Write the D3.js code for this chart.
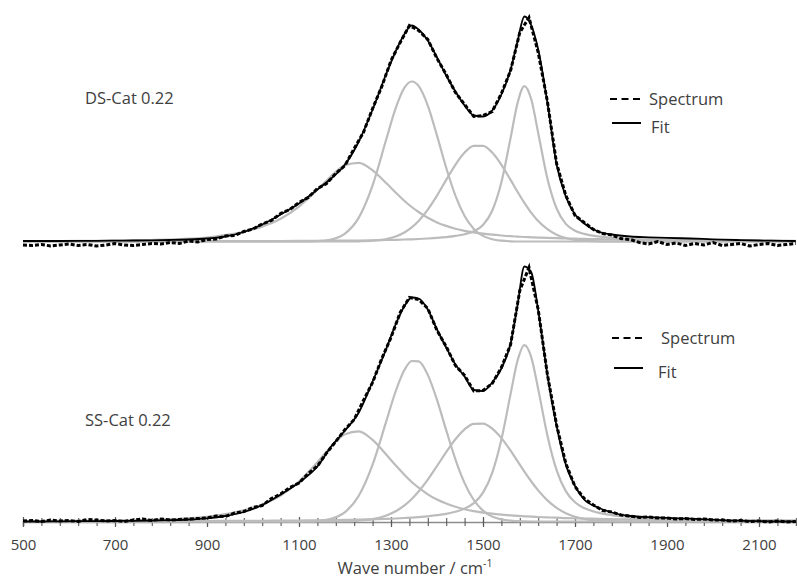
<!DOCTYPE html>
<html><head><meta charset="utf-8">
<script src="https://cdn.jsdelivr.net/npm/d3@7"></script>
<style>
body{margin:0;background:#fff;}
svg{display:block;}
text{font-family:"Open Sans",sans-serif;fill:#404040;}
</style>
</head><body>
<svg id="chart" width="797" height="580"></svg>
<script>
// ---------- DATA ----------
// shared wavenumber grid (cm-1) for fit and fitted bands
const wavenumbers = [500,540,580,620,660,700,740,780,820,860,900,940,980,1020,1060,1100,1140,1170,1200,1230,1260,1290,1310,1330,1345,1360,1380,1400,1420,1440,1460,1480,1500,1520,1540,1560,1575,1590,1605,1620,1640,1660,1680,1700,1720,1750,1780,1820,1860,1900,1950,2000,2050,2100,2150,2180];
// measured spectrum grid (cm-1)
const specWavenumbers = [500,520,540,560,580,600,620,640,660,680,700,720,740,760,780,800,820,840,860,880,900,920,940,960,980,1000,1020,1040,1060,1080,1100,1120,1140,1160,1180,1200,1220,1240,1260,1280,1300,1320,1340,1360,1380,1400,1420,1440,1460,1480,1500,1520,1540,1560,1580,1600,1620,1640,1660,1680,1700,1720,1740,1760,1780,1800,1820,1840,1860,1880,1900,1920,1940,1960,1980,2000,2020,2040,2060,2080,2100,2120,2140,2160,2180];

// DS-Cat 0.22 (intensity, a.u.)
const dsSpectrum = [-3.5,-4,-3,-4.5,-3.5,-2.5,-4,-3,-4.5,-3.5,-2,-3.5,-4,-3,-2,-2.5,-1,-2,0.5,-0.5,2,2.5,5.5,6,10,12.5,17.5,21,28,32,39,44,53,58,68,76,93,109,133,155,181,199,216,211,202,183,167,149,137,125,126,130,148,171,209,224,189,140,78,46,26,19,12,8,6.5,3,2,-1,-2.5,0,-3,-1.5,-4,-2,-3.5,-1,-4,-3,-2,-4.5,-3,-2,-4,-3,-2];
const dsFit = [0.5,0.5,0.5,0.6,0.7,0.8,1.0,1.2,1.5,2.0,3.0,5.0,9.5,17,27,38,52,63,77,100,132,168,190,208,216,212,201,184,166,150,136,126,125,131,147,172,200,225,216,192,139,77,45,27,18,10,7,5,4.2,3.6,3.0,2.2,1.5,1.0,0.7,0.5];
const dsD4 = [0.4,0.4,0.5,0.6,0.7,0.9,1.1,1.5,2.0,2.8,4.0,6.5,9.8,14.9,22.7,34.9,51.7,65.5,76.2,78.7,71.2,58.2,49.0,40.3,34.5,29.5,23.7,19.1,15.6,12.8,10.7,9.1,7.8,6.8,6.0,5.3,4.9,4.5,4.2,3.9,3.6,3.3,3.0,2.8,2.6,2.3,2.1,1.8,1.6,1.4,1.2,1.1,1.0,0.9,0.8,0.7];
const dsD1 = [0,0,0,0,0,0,0,0,0,0,0,0,0,0,0,0,0.4,2.0,7.9,23.9,56.2,102.7,133.2,154.3,160,155.6,135.9,105.9,73.8,45.9,25.5,12.6,5.6,2.2,0.8,0.2,0,0,0,0,0,0,0,0,0,0,0,0,0,0,0,0,0,0,0,0];
const dsD3 = [0,0,0,0,0,0,0,0,0,0,0,0,0,0,0,0,0,0,0,0.2,0.8,2.5,5.0,9.3,14.1,20.5,31.9,45.9,61.6,76.7,88.9,95.6,95.6,88.9,76.7,61.6,49.8,38.6,28.7,20.5,12.3,6.8,3.5,1.7,0.8,0.2,0,0,0,0,0,0,0,0,0,0];
const dsG = [0.1,0.1,0.1,0.1,0.2,0.2,0.2,0.2,0.2,0.3,0.3,0.3,0.4,0.4,0.5,0.6,0.7,0.8,0.9,1.0,1.2,1.5,1.7,2.0,2.2,2.5,3.0,3.6,4.4,5.6,7.3,10.3,16.6,30.8,59.3,103.6,138.2,155.4,142.0,108.5,63.1,33.0,17.6,10.8,7.6,5.1,3.7,2.5,1.9,1.4,1.1,0.8,0.7,0.5,0.4,0.4];

// SS-Cat 0.22 (intensity, a.u.)
const ssSpectrum = [0.5,1,0,1.5,0.5,1,0,2,1.5,0.5,1,0,1.5,2.5,1,2.5,1.5,2,2.5,3,3.5,5.5,5,8.5,10,14,16,23,27.5,34,38.5,48,55.5,68.5,80,92,102,121,139,163,184,209,224,222,213,191,175,156,146,130.5,131,138,154,177,231,254,212,147,96.5,58,35,23,16.5,11,9.5,6.5,5.5,4,4.5,3.5,3.5,2.5,3,2,2.5,1.5,1.5,0.5,1,0,0.5,-0.5,0.5,-0.5,0];
const ssFit = [0,0,0.2,0.3,0.4,0.5,0.7,1.0,1.4,2.0,3.2,5.5,9.5,16.5,27,39,55,75,91,109,140,173,197,216,224,223,212,192,174,157,145,131.5,130.5,139,153,178,216,255,249,211,146.5,95.5,57,35.5,22,14,9,5.5,4.3,3.6,2.8,1.8,0.8,0.3,0,0];
const ssD4 = [0.5,0.5,0.6,0.7,0.8,1.0,1.3,1.7,2.3,3.2,4.6,7.4,11.2,17.1,26.0,40.0,59.2,75.1,87.3,90.2,81.6,66.7,56.2,46.2,39.5,33.8,27.2,21.9,17.9,14.7,12.3,10.4,8.9,7.8,6.9,6.1,5.6,5.2,4.8,4.5,4.1,3.8,3.4,3.2,3.0,2.6,2.4,2.1,1.8,1.6,1.4,1.3,1.1,1.0,0.9,0.8];
const ssD1 = [0,0,0,0,0,0,0,0,0,0,0,0,0,0,0,0.1,0.6,2.7,9.4,25.8,56.9,100.6,130.0,152.2,160.5,160.2,146.6,121.6,91.3,62.2,38.4,21.5,10.9,5.0,2.1,0.8,0.4,0.1,0,0,0,0,0,0,0,0,0,0,0,0,0,0,0,0,0,0];
const ssD3 = [0,0,0,0,0,0,0,0,0,0,0,0,0,0,0,0,0,0.1,0.3,0.9,2.4,6.0,10.2,16.3,22.5,30.0,41.9,55.5,69.4,82.3,92.2,97.7,97.9,92.9,83.4,70.8,60.4,49.9,40.0,31.1,21.1,13.6,8.3,4.8,2.6,0.9,0.3,0.1,0,0,0,0,0,0,0,0];
const ssG = [0.2,0.2,0.2,0.3,0.3,0.3,0.3,0.4,0.4,0.5,0.5,0.6,0.7,0.7,0.9,1.0,1.2,1.4,1.6,1.8,2.2,2.6,3.0,3.5,3.9,4.4,5.2,6.3,7.7,9.8,12.9,18.4,28.9,48.7,82.0,127.6,160.7,176.4,164.2,132.4,86.1,51.4,30.4,19.2,13.4,8.9,6.4,4.5,3.3,2.5,1.9,1.4,1.2,0.9,0.8,0.7];

const xTickLabels = [500,700,900,1100,1300,1500,1700,1900,2100];
const legendLabels = ["Spectrum","Fit"];
const sampleNames = ["DS-Cat 0.22","SS-Cat 0.22"];

// ---------- CHART ----------
const svg = d3.select("#chart");
const x = d3.scaleLinear().domain([500, 2182.6]).range([23, 797]);

const panels = [
  {name: sampleNames[0], y: d3.scaleLinear().domain([0,230]).range([241.5,11.5]),
   bands:[dsD4,dsD1,dsD3,dsG], fit:dsFit, spec:dsSpectrum,
   label:[85,104], leg:{x1:610, spY:99, fitY:123, spTx:649, fitTx:651}},
  {name: sampleNames[1], y: d3.scaleLinear().domain([0,260]).range([521.5,261.5]),
   bands:[ssD4,ssD1,ssD3,ssG], fit:ssFit, spec:ssSpectrum,
   label:[85,426], leg:{x1:612, spY:338, fitY:368, spTx:661, fitTx:658}}
];

svg.append("defs").append("clipPath").attr("id","clip")
  .append("rect").attr("x",0).attr("y",0).attr("width",797).attr("height",580);

// axis
const axisY = 522;
const gAxis = svg.append("g").attr("transform",`translate(0,${axisY})`);
const minorAxis = d3.axisBottom(x).tickValues(d3.range(500, 2181, 40)).tickSize(4).tickFormat("");
const gMinor = gAxis.append("g").call(minorAxis);
gMinor.select(".domain").attr("stroke","#8c8c8c").attr("stroke-width",1.6);
gMinor.selectAll(".tick line").attr("y1",-4).attr("y2",4).attr("stroke","#595959").attr("stroke-width",1.1);
const majorAxis = d3.axisBottom(x).tickValues(xTickLabels).tickSize(5).tickPadding(12).tickFormat(d3.format("d"));
const gMajor = gAxis.append("g").call(majorAxis);
gMajor.select(".domain").remove();
gMajor.selectAll(".tick line").attr("y1",-5).attr("y2",5).attr("stroke","#595959").attr("stroke-width",1.2);
gMajor.selectAll(".tick text").attr("font-family","Open Sans").attr("font-size",15).attr("fill","#404040");

const title = svg.append("text").attr("x",415).attr("y",574).attr("text-anchor","middle").attr("font-size",16.5);
title.append("tspan").text("Wave number / cm");
title.append("tspan").text("-1").attr("font-size",10.5).attr("dy",-7);

panels.forEach(p => {
  const g = svg.append("g").attr("clip-path","url(#clip)");
  const line = d3.line().x((d,i)=>x(wavenumbers[i])).y(d=>p.y(d)).curve(d3.curveMonotoneX);
  p.bands.forEach(b => {
    g.append("path").datum(b).attr("d",line).attr("fill","none")
      .attr("stroke","#bcbcbc").attr("stroke-width",2.2);
  });
  g.append("path").datum(p.fit).attr("d",line).attr("fill","none")
    .attr("stroke","#000").attr("stroke-width",1.8);
  const sline = d3.line().x((d,i)=>x(specWavenumbers[i])).y(d=>p.y(d));
  g.append("path").datum(p.spec).attr("d",sline).attr("fill","none")
    .attr("stroke","#000").attr("stroke-width",3).attr("stroke-dasharray","4,2");

  svg.append("text").attr("x",p.label[0]).attr("y",p.label[1]).attr("font-size",16.5).text(p.name);

  const L = p.leg;
  svg.append("line").attr("x1",L.x1).attr("x2",L.x1+30).attr("y1",L.spY).attr("y2",L.spY)
    .attr("stroke","#000").attr("stroke-width",2).attr("stroke-dasharray","7,4.5");
  svg.append("text").attr("x",L.spTx).attr("y",L.spY+6).attr("font-size",16.5).text(legendLabels[0]);
  svg.append("line").attr("x1",L.x1+2).attr("x2",L.x1+31).attr("y1",L.fitY).attr("y2",L.fitY)
    .attr("stroke","#000").attr("stroke-width",2);
  svg.append("text").attr("x",L.fitTx).attr("y",L.fitY+10).attr("font-size",16.5).text(legendLabels[1]);
});
</script>
</body></html>
